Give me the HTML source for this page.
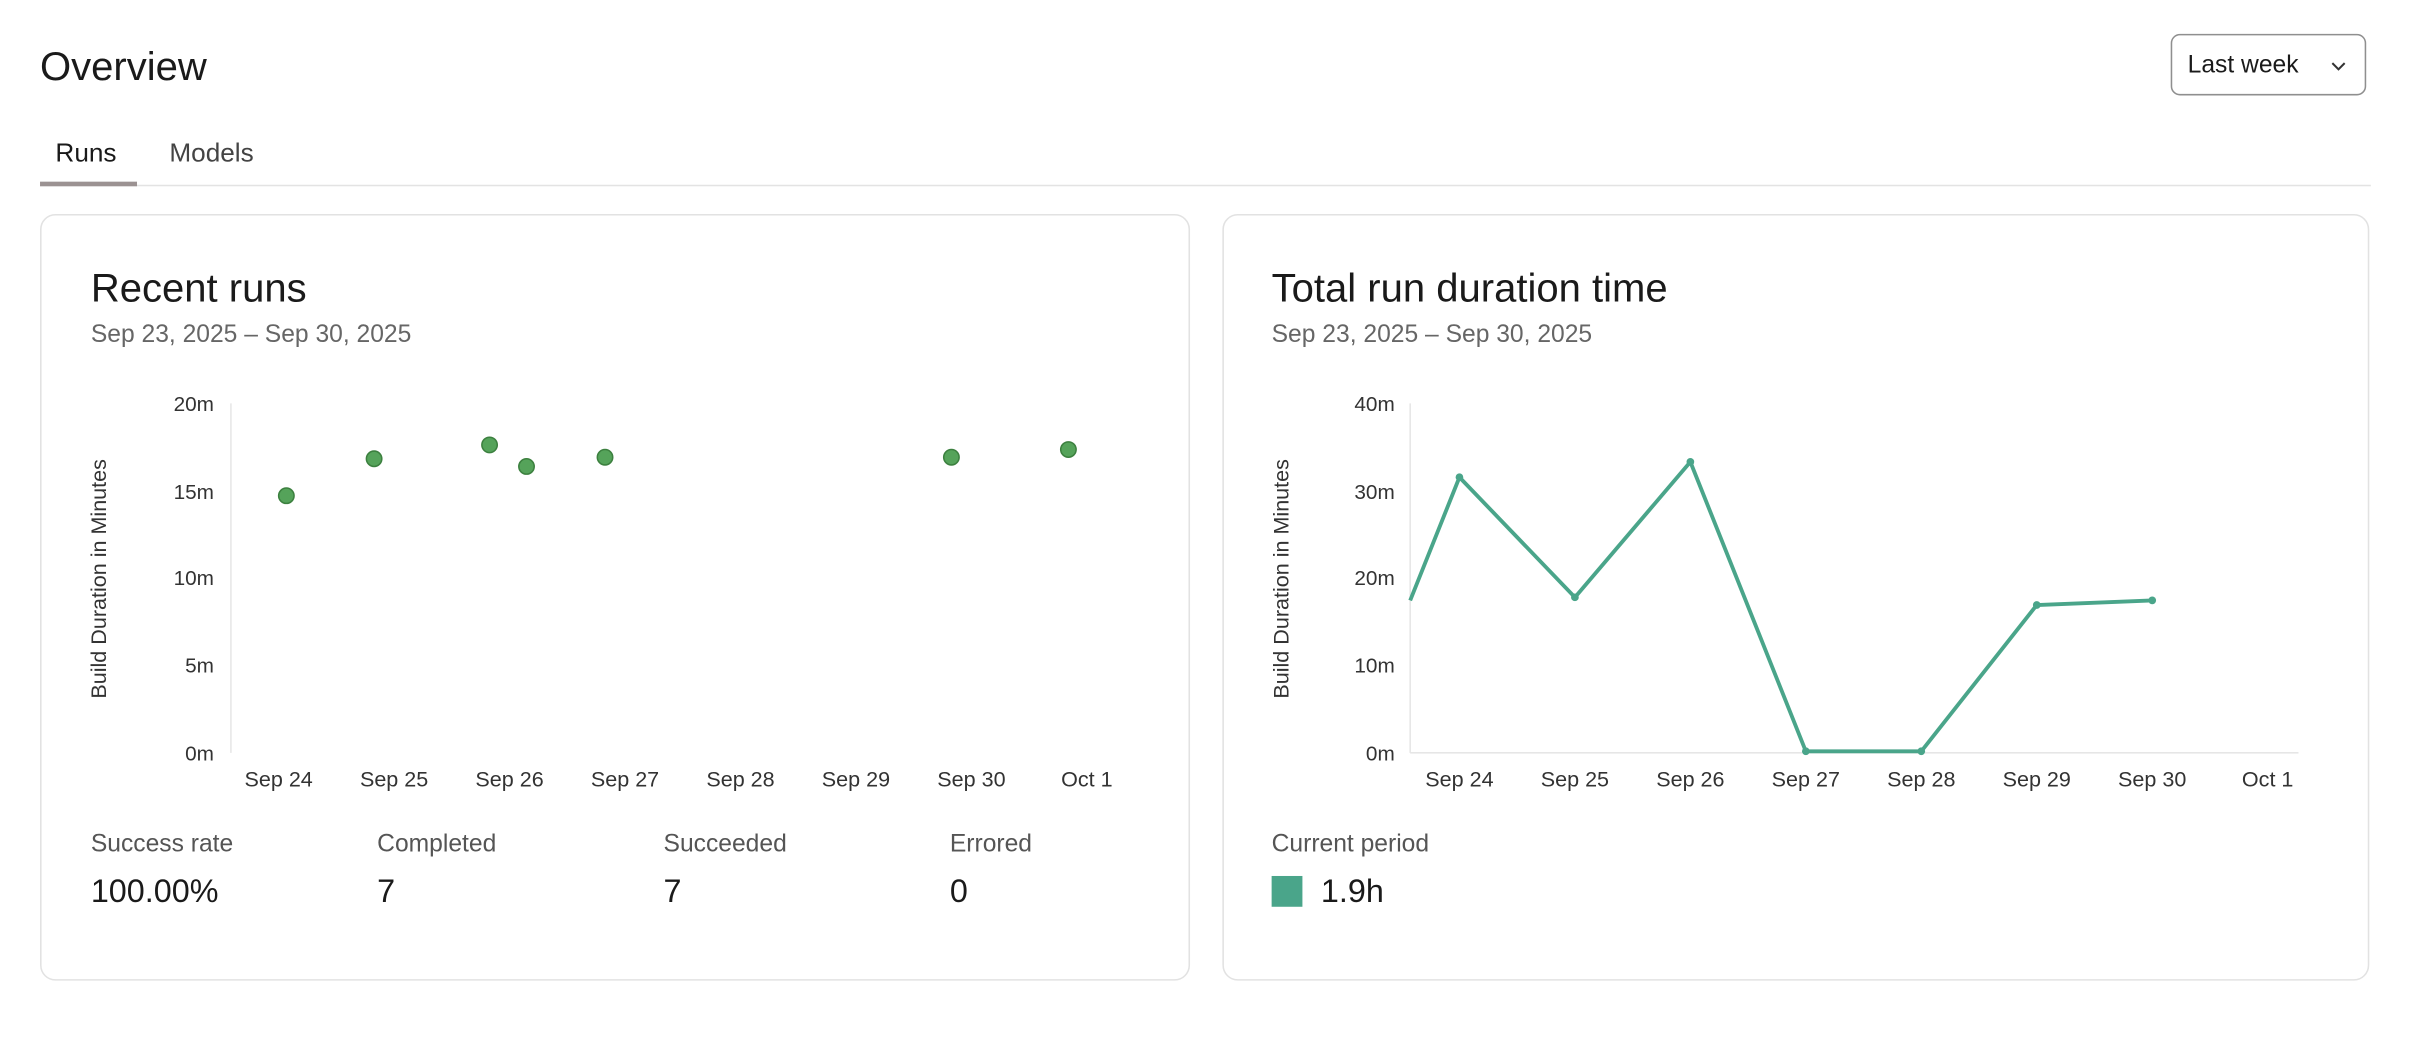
<!DOCTYPE html>
<html><head><meta charset="utf-8"><style>
html,body{margin:0;padding:0;background:#fff;width:2414px;height:1044px;overflow:hidden}
#w{position:absolute;left:0;top:0;width:1568px;height:678px;transform:scale(1.5395);transform-origin:0 0;font-family:"Liberation Sans",Arial,sans-serif;color:#1a1a1a}
.a{position:absolute;white-space:nowrap}
.card{position:absolute;border:1px solid #e2e2e2;border-radius:10px;background:#fff}
</style></head><body><div id="w">
<div class="a" style="left:26px;top:28px;font-size:26px;font-weight:500">Overview</div>
<div class="a" style="left:1410px;top:22px;width:127px;height:40px;border:1px solid #8f8f8f;border-radius:6px;box-sizing:border-box"></div>
<div class="a" style="left:1421px;top:34px;font-size:16px;font-weight:500">Last week</div>
<svg class="a" style="left:1513px;top:38px" width="12" height="10"><path d="M2 3 L6 7 L10 3" fill="none" stroke="#333" stroke-width="1.3"/></svg>
<div class="a" style="left:36px;top:90px;font-size:17px;font-weight:500">Runs</div>
<div class="a" style="left:110px;top:90px;font-size:17px;color:#444">Models</div>
<div class="a" style="left:26px;top:120px;width:1514px;height:1px;background:#e3e3e3"></div>
<div class="a" style="left:26px;top:118px;width:63px;height:3px;background:#9b9292"></div>

<div class="card" style="left:26px;top:139px;width:745px;height:496px"></div>
<div class="card" style="left:794px;top:139px;width:743px;height:496px"></div>

<div class="a" style="left:59px;top:172px;font-size:26px;font-weight:500">Recent runs</div>
<div class="a" style="left:59px;top:209px;font-size:16px;color:#666">Sep 23, 2025 – Sep 30, 2025</div>
<div class="a" style="left:826px;top:172px;font-size:26px;font-weight:500">Total run duration time</div>
<div class="a" style="left:826px;top:209px;font-size:16px;color:#666">Sep 23, 2025 – Sep 30, 2025</div>

<svg class="a" style="left:0;top:0" width="1568" height="678" font-family="Liberation Sans,Arial,sans-serif">
<g font-size="13.5" fill="#333" text-anchor="end">
<text x="139" y="267">20m</text><text x="139" y="324">15m</text><text x="139" y="380">10m</text><text x="139" y="437">5m</text><text x="139" y="494">0m</text>
<text x="906" y="267">40m</text><text x="906" y="324">30m</text><text x="906" y="380">20m</text><text x="906" y="437">10m</text><text x="906" y="494">0m</text>
</g>
<g font-size="14" fill="#333" text-anchor="middle">
<text x="181" y="511">Sep 24</text><text x="256" y="511">Sep 25</text><text x="331" y="511">Sep 26</text><text x="406" y="511">Sep 27</text><text x="481" y="511">Sep 28</text><text x="556" y="511">Sep 29</text><text x="631" y="511">Sep 30</text><text x="706" y="511">Oct 1</text>
<text x="948" y="511">Sep 24</text><text x="1023" y="511">Sep 25</text><text x="1098" y="511">Sep 26</text><text x="1173" y="511">Sep 27</text><text x="1248" y="511">Sep 28</text><text x="1323" y="511">Sep 29</text><text x="1398" y="511">Sep 30</text><text x="1473" y="511">Oct 1</text>
</g>
<text transform="translate(69,376) rotate(-90)" font-size="14" fill="#333" text-anchor="middle">Build Duration in Minutes</text>
<text transform="translate(837,376) rotate(-90)" font-size="14" fill="#333" text-anchor="middle">Build Duration in Minutes</text>
<line x1="150" y1="262" x2="150" y2="489" stroke="#e6e6e6"/>
<line x1="916" y1="262" x2="916" y2="489" stroke="#e6e6e6"/>
<line x1="916" y1="489" x2="1493" y2="489" stroke="#e6e6e6"/>
<g fill="#55a35a" stroke="#3c803f" stroke-width="1">
<circle cx="186" cy="322" r="5"/><circle cx="243" cy="298" r="5"/><circle cx="318" cy="289" r="5"/><circle cx="342" cy="303" r="5"/><circle cx="393" cy="297" r="5"/><circle cx="618" cy="297" r="5"/><circle cx="694" cy="292" r="5"/>
</g>
<polyline points="916,390 948,310 1023,388 1098,300 1173,488 1248,488 1323,393 1398,390" fill="none" stroke="#4aa58a" stroke-width="2.5" stroke-linejoin="round"/>
<g fill="#4aa58a"><circle cx="948" cy="310" r="2.5"/><circle cx="1023" cy="388" r="2.5"/><circle cx="1098" cy="300" r="2.5"/><circle cx="1173" cy="488" r="2.5"/><circle cx="1248" cy="488" r="2.5"/><circle cx="1323" cy="393" r="2.5"/><circle cx="1398" cy="390" r="2.5"/></g>
</svg>

<div class="a" style="left:59px;top:540px;font-size:16px;color:#555">Success rate</div>
<div class="a" style="left:245px;top:540px;font-size:16px;color:#555">Completed</div>
<div class="a" style="left:431px;top:540px;font-size:16px;color:#555">Succeeded</div>
<div class="a" style="left:617px;top:540px;font-size:16px;color:#555">Errored</div>
<div class="a" style="left:59px;top:568px;font-size:21px">100.00%</div>
<div class="a" style="left:245px;top:568px;font-size:21px">7</div>
<div class="a" style="left:431px;top:568px;font-size:21px">7</div>
<div class="a" style="left:617px;top:568px;font-size:21px">0</div>

<div class="a" style="left:826px;top:540px;font-size:16px;color:#555">Current period</div>
<div class="a" style="left:826px;top:569px;width:20px;height:20px;background:#4aa58a"></div>
<div class="a" style="left:858px;top:568px;font-size:21px">1.9h</div>
</div></body></html>
